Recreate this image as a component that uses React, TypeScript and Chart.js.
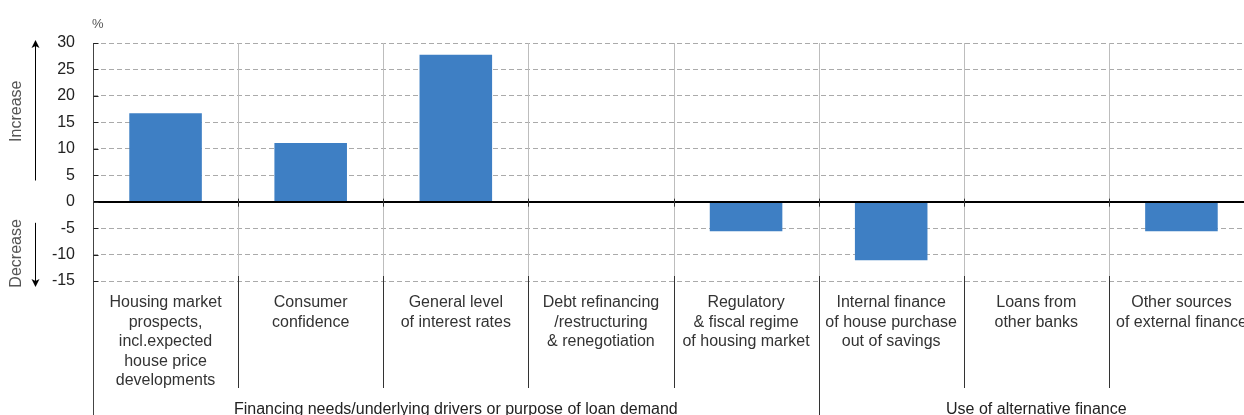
import React, { useEffect, useRef } from "react";
import { Chart, registerables } from "chart.js";

Chart.register(...registerables);

const categories: string[][] = [
  ["Housing market", "prospects,", "incl.expected", "house price", "developments"],
  ["Consumer", "confidence"],
  ["General level", "of interest rates"],
  ["Debt refinancing", "/restructuring", "& renegotiation"],
  ["Regulatory", "& fiscal regime", "of housing market"],
  ["Internal finance", "of house purchase", "out of savings"],
  ["Loans from", "other banks"],
  ["Other sources", "of external finance"],
];
const values: number[] = [16.7, 11.1, 27.8, 0, -5.6, -11.1, 0, -5.6];
const groupLabels: string[] = [
  "Financing needs/underlying drivers or purpose of loan demand",
  "Use of alternative finance",
];
const groupSizes: number[] = [5, 3];
const yMin = -15;
const yMax = 30;
const yStep = 5;
const unitLabel = "%";
const upLabel = "Increase";
const downLabel = "Decrease";

const FONT = "'Liberation Sans', Arial, Helvetica, sans-serif";
const BAR_COLOR = "#3e7fc4";

const decorPlugin = {
  id: "decor",
  beforeDatasetsDraw(chart: any) {
    const { ctx, chartArea: ca, scales } = chart;
    const x = scales.x;
    const n = categories.length;
    const half = (x.getPixelForValue(1) - x.getPixelForValue(0)) / 2;
    ctx.save();
    ctx.strokeStyle = "#bdbdbd";
    ctx.lineWidth = 1;
    for (let i = 1; i < n; i++) {
      const px = Math.round(x.getPixelForValue(i) - half) + 0.5;
      ctx.beginPath();
      ctx.moveTo(px, ca.top);
      ctx.lineTo(px, ca.bottom);
      ctx.stroke();
    }
    ctx.restore();
  },
  afterDatasetsDraw(chart: any) {
    const { ctx, chartArea: ca, scales, height } = chart;
    const x = scales.x;
    const y = scales.y;
    const n = categories.length;
    const half = (x.getPixelForValue(1) - x.getPixelForValue(0)) / 2;
    const zeroY = y.getPixelForValue(0);
    const axisX = Math.round(ca.left) + 0.5;

    ctx.save();
    // zero line
    ctx.strokeStyle = "#000";
    ctx.lineWidth = 2;
    ctx.beginPath();
    ctx.moveTo(ca.left, Math.round(zeroY));
    ctx.lineTo(ca.right, Math.round(zeroY));
    ctx.stroke();

    // left axis line
    ctx.lineWidth = 1;
    ctx.strokeStyle = "#444";
    ctx.beginPath();
    ctx.moveTo(axisX, ca.top);
    ctx.lineTo(axisX, height);
    ctx.stroke();

    // y ticks inside
    ctx.strokeStyle = "#222";
    for (let v = yMin; v <= yMax; v += yStep) {
      const py = Math.round(y.getPixelForValue(v)) + 0.5;
      ctx.beginPath();
      ctx.moveTo(axisX, py);
      ctx.lineTo(axisX + 5, py);
      ctx.stroke();
    }

    // category boundaries: zero ticks and label-area lines
    const groupBoundaryIdx: number[] = [];
    let acc = 0;
    for (let g = 0; g < groupSizes.length - 1; g++) {
      acc += groupSizes[g];
      groupBoundaryIdx.push(acc);
    }
    ctx.strokeStyle = "#333";
    for (let i = 1; i < n; i++) {
      const px = Math.round(x.getPixelForValue(i) - half) + 0.5;
      ctx.beginPath();
      ctx.moveTo(px, zeroY - 3);
      ctx.lineTo(px, zeroY + 5);
      ctx.stroke();
      const isGroup = groupBoundaryIdx.indexOf(i) >= 0;
      ctx.beginPath();
      ctx.moveTo(px, ca.bottom - 5);
      ctx.lineTo(px, isGroup ? height : ca.bottom + 107);
      ctx.stroke();
    }

    // group labels
    ctx.fillStyle = "#222";
    ctx.font = `16px ${FONT}`;
    ctx.textAlign = "center";
    ctx.textBaseline = "middle";
    let start = 0;
    for (let g = 0; g < groupSizes.length; g++) {
      const end = start + groupSizes[g] - 1;
      const l = x.getPixelForValue(start) - half;
      const r = x.getPixelForValue(end) + half;
      ctx.fillText(groupLabels[g], (l + r) / 2, ca.bottom + 129);
      start = end + 1;
    }

    // unit label
    ctx.fillStyle = "#555";
    ctx.font = `13px ${FONT}`;
    ctx.textAlign = "left";
    ctx.fillText(unitLabel, ca.left - 1, ca.top - 19);

    // Increase / Decrease
    const arrowX = 27.5;
    ctx.strokeStyle = "#000";
    ctx.fillStyle = "#000";
    ctx.lineWidth = 1;
    const topTip = y.getPixelForValue(yMax) - 3;
    const upBottom = y.getPixelForValue(4);
    ctx.beginPath();
    ctx.moveTo(arrowX, topTip + 2);
    ctx.lineTo(arrowX, upBottom);
    ctx.stroke();
    ctx.beginPath();
    ctx.moveTo(arrowX, topTip);
    ctx.lineTo(arrowX - 4, topTip + 8);
    ctx.lineTo(arrowX, topTip + 6);
    ctx.lineTo(arrowX + 4, topTip + 8);
    ctx.closePath();
    ctx.fill();

    const downTop = y.getPixelForValue(-4);
    const botTip = y.getPixelForValue(yMin) + 6;
    ctx.beginPath();
    ctx.moveTo(arrowX, downTop);
    ctx.lineTo(arrowX, botTip - 2);
    ctx.stroke();
    ctx.beginPath();
    ctx.moveTo(arrowX, botTip);
    ctx.lineTo(arrowX - 4, botTip - 8);
    ctx.lineTo(arrowX, botTip - 6);
    ctx.lineTo(arrowX + 4, botTip - 8);
    ctx.closePath();
    ctx.fill();

    ctx.fillStyle = "#555";
    ctx.font = `16px ${FONT}`;
    ctx.textAlign = "center";
    ctx.textBaseline = "middle";
    const upMid = (topTip + upBottom) / 2 + 1;
    ctx.save();
    ctx.translate(9, upMid);
    ctx.rotate(-Math.PI / 2);
    ctx.fillText(upLabel, 0, 0);
    ctx.restore();
    const downMid = (downTop + botTip) / 2 - 1.5;
    ctx.save();
    ctx.translate(9, downMid);
    ctx.rotate(-Math.PI / 2);
    ctx.fillText(downLabel, 0, 0);
    ctx.restore();

    ctx.restore();
  },
};

export default function App() {
  const ref = useRef<HTMLCanvasElement | null>(null);

  useEffect(() => {
    document.documentElement.style.overflow = "hidden";
    document.body.style.margin = "0";
    const canvas = ref.current;
    if (!canvas) return;
    const chart = new Chart(canvas, {
      type: "bar",
      data: {
        labels: categories,
        datasets: [
          {
            data: values,
            backgroundColor: BAR_COLOR,
            borderWidth: 0,
            barPercentage: 1,
            categoryPercentage: 0.5,
          },
        ],
      },
      options: {
        responsive: false,
        animation: false,
        events: [],
        layout: { padding: { top: 35, left: 0, right: 0, bottom: 0 } },
        plugins: {
          legend: { display: false },
          tooltip: { enabled: false },
        },
        scales: {
          x: {
            offset: true,
            grid: { display: false, drawTicks: false },
            border: { display: false },
            ticks: {
              autoSkip: false,
              maxRotation: 0,
              minRotation: 0,
              padding: 12,
              color: "#333",
              font: { family: FONT, size: 16, lineHeight: 1.22 },
            },
            afterFit: (scale: any) => {
              scale.height = 134;
              scale.paddingLeft = 0;
              scale.paddingRight = 0;
            },
          },
          y: {
            min: yMin,
            max: yMax,
            grid: {
              color: (c: any) => (c.tick && c.tick.value === 0 ? "rgba(0,0,0,0)" : "#aaaaaa"),
              lineWidth: 1,
              drawTicks: false,
            },
            border: { display: false, dash: [5, 3] },
            ticks: {
              stepSize: yStep,
              padding: 18,
              color: "#222",
              font: { family: FONT, size: 16 },
            },
            afterFit: (scale: any) => {
              scale.width = 85;
              scale.paddingTop = 0;
              scale.paddingBottom = 0;
            },
          },
        },
      },
      plugins: [decorPlugin],
    });
    return () => chart.destroy();
  }, []);

  return (
    <div style={{ position: "relative", width: 1244, height: 415, overflow: "hidden" }}>
      <canvas
        ref={ref}
        width={1246}
        height={407}
        style={{ position: "absolute", left: 8, top: 8, display: "block" }}
      />
    </div>
  );
}
